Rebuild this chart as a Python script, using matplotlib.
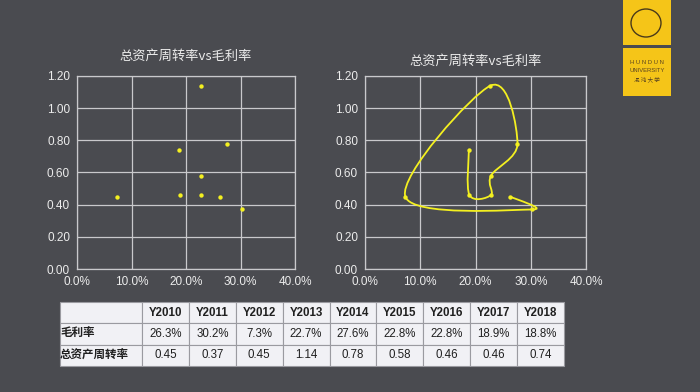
import matplotlib
matplotlib.use('Agg')
import matplotlib.pyplot as plt
import numpy as np
from matplotlib.path import Path
from matplotlib.patches import PathPatch, Rectangle, Ellipse

plt.rcParams['font.family'] = ['Liberation Sans', 'Noto Sans CJK SC', 'DejaVu Sans']

years = ['Y2010', 'Y2011', 'Y2012', 'Y2013', 'Y2014', 'Y2015', 'Y2016', 'Y2017', 'Y2018']
gross_margin = [26.3, 30.2, 7.3, 22.7, 27.6, 22.8, 22.8, 18.9, 18.8]   # percent
turnover = [0.45, 0.37, 0.45, 1.14, 0.78, 0.58, 0.46, 0.46, 0.74]
x_ticks = [0.0, 0.1, 0.2, 0.3, 0.4]
y_ticks = [0.0, 0.2, 0.4, 0.6, 0.8, 1.0, 1.2]
title = '总资产周转率vs毛利率'
row_labels = ['毛利率', '总资产周转率']

bg = '#4a4b50'
grid_c = '#c9c9cc'
txt_c = '#ececec'
yellow = '#f4f020'

W, H = 700, 392
fig = plt.figure(figsize=(7, 3.92), dpi=100, facecolor=bg)


def box(x0, y0, x1, y1):
    return [x0 / W, 1 - y1 / H, (x1 - x0) / W, (y1 - y0) / H]


def style(ax):
    ax.set_facecolor(bg)
    ax.set_xlim(0, 0.4)
    ax.set_ylim(0, 1.2)
    ax.set_xticks(x_ticks)
    ax.set_yticks(y_ticks)
    ax.set_xticklabels(['%.1f%%' % (t * 100) for t in x_ticks])
    ax.set_yticklabels(['%.2f' % t for t in y_ticks])
    ax.grid(True, color=grid_c, lw=0.9)
    ax.set_axisbelow(True)
    for s in ax.spines.values():
        s.set_color(grid_c)
        s.set_linewidth(0.9)
    ax.tick_params(colors=txt_c, labelsize=8.5, length=0, pad=5)


xs = np.array(gross_margin) / 100.0
ys = np.array(turnover)

# left: scatter
ax1 = fig.add_axes(box(77, 76, 295, 269))
style(ax1)
ax1.scatter(xs, ys, s=10, color=yellow, zorder=3, linewidths=0)
ax1.set_title(title, color=txt_c, fontsize=9.5, pad=12,
              family=['Noto Sans CJK SC', 'DejaVu Sans'])

# right: smoothed line through points in order (Catmull-Rom as bezier)
ax2 = fig.add_axes(box(365, 76, 586, 269))
style(ax2)
sx, sy = 1 / 0.4, 1 / 1.2
P = np.column_stack([xs * sx, ys * sy])
Pp = np.vstack([P[0], P, P[-1]])
verts = [P[0]]
codes = [Path.MOVETO]
for i in range(len(P) - 1):
    p0, p1, p2, p3 = Pp[i], Pp[i + 1], Pp[i + 2], Pp[i + 3]
    c1 = p1 + (p2 - p0) / 6.0
    c2 = p2 - (p3 - p1) / 6.0
    verts += [c1, c2, p2]
    codes += [Path.CURVE4] * 3
verts = np.array(verts)
verts[:, 0] /= sx
verts[:, 1] /= sy
ax2.add_patch(PathPatch(Path(verts, codes), fill=False, edgecolor=yellow, lw=1.3, zorder=3))
ax2.scatter(xs, ys, s=10, color=yellow, zorder=4, linewidths=0)
ax2.set_title(title, color=txt_c, fontsize=9.5, pad=8,
              family=['Noto Sans CJK SC', 'DejaVu Sans'])

# table
tax = fig.add_axes(box(60, 302, 564, 366))
tax.axis('off')
cells = [[''] + years,
         [row_labels[0]] + ['%.1f%%' % v for v in gross_margin],
         [row_labels[1]] + ['%.2f' % v for v in turnover]]
first_w = 82 / 504
col_w = [first_w] + [(1 - first_w) / len(years)] * len(years)
tbl = tax.table(cellText=cells, colWidths=col_w, bbox=[0, 0, 1, 1], cellLoc='center')
tbl.auto_set_font_size(False)
for (r, c), cell in tbl.get_celld().items():
    cell.set_facecolor('#f1f1f5')
    cell.set_edgecolor('#9a9aa0')
    cell.set_linewidth(0.8)
    t = cell.get_text()
    t.set_fontsize(8.3)
    t.set_color('#202020')
    t.set_fontfamily(['Liberation Sans', 'Noto Sans CJK SC'])
    if r == 0:
        t.set_fontweight('bold')
    if c == 0:
        t.set_fontweight('bold')
        t.set_ha('left')
        cell.PAD = 0.0

# logo
logo_y = '#f5c518'
fig.patches.append(Rectangle((623 / W, 1 - 45 / H), 48 / W, 45 / H, transform=fig.transFigure,
                             facecolor=logo_y, edgecolor='none'))
fig.patches.append(Rectangle((623 / W, 1 - 96 / H), 48 / W, 48 / H, transform=fig.transFigure,
                             facecolor=logo_y, edgecolor='none'))
fig.patches.append(Ellipse((646 / W, 1 - 23 / H), 30 / W, 28 / H, transform=fig.transFigure,
                           facecolor='none', edgecolor='#4a3a1a', lw=1.0))
fig.text(647 / W, 1 - 62 / H, 'H U N D U N', fontsize=4.2, color='#5a4420', ha='center', va='center')
fig.text(647 / W, 1 - 71 / H, 'UNIVERSITY', fontsize=4.2, color='#5a4420', ha='center', va='center')
fig.text(647 / W, 1 - 79 / H, '混 沌 大 学', fontsize=4, color='#5a4420', ha='center', va='center',
         family=['Noto Sans CJK SC'])

fig.savefig('out.png', dpi=100, facecolor=bg)
